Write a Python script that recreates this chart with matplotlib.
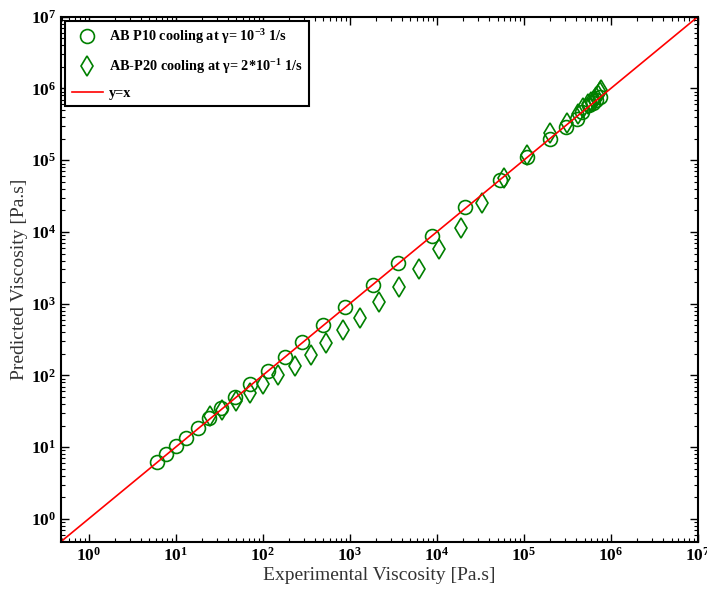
import numpy as np
import matplotlib
matplotlib.use('Agg')
import matplotlib.pyplot as plt
from matplotlib.ticker import LogLocator, NullFormatter, FuncFormatter

plt.rcParams['font.family'] = 'Liberation Serif'
plt.rcParams['mathtext.fontset'] = 'custom'
plt.rcParams['mathtext.rm'] = 'Liberation Serif:bold'
plt.rcParams['mathtext.it'] = 'Liberation Serif:bold'
plt.rcParams['mathtext.bf'] = 'Liberation Serif:bold'

# AB P10 cooling, gamma = 1e-3 1/s
p10_exp = [6.1, 7.7, 10.2, 13.3, 18, 24, 33.5, 48, 71, 115, 180, 285, 500, 890,
           1850, 3600, 8800, 21000, 54000, 108000, 198000, 305000, 405000,
           470000, 560000, 620000, 680000, 750000]
p10_pred = [6.2, 8.0, 10.5, 13.6, 18.5, 25.5, 35, 50, 75, 115, 180, 290, 500, 900,
            1800, 3700, 8700, 22000, 53000, 110000, 200000, 290000, 380000,
            470000, 580000, 630000, 700000, 760000]

# AB-P20 cooling, gamma = 2e-1 1/s
p20_exp = [25, 34, 50, 71, 100, 150, 234, 355, 540, 835, 1300, 2170, 3690, 6200,
           10600, 18900, 33000, 59000, 110000, 200000, 310000, 420000, 480000,
           550000, 600000, 640000, 680000, 720000, 750000, 780000]
p20_pred = [27, 33, 44, 57, 76, 102, 136, 194, 282, 424, 630, 1040, 1700, 3030,
            5760, 11300, 25000, 56000, 118000, 238000, 327000, 440000, 530000,
            600000, 650000, 700000, 760000, 820000, 880000, 950000]

lo, hi = 0.48, 1e7

fig = plt.figure(figsize=(7.07, 5.98), dpi=100)
ax = fig.add_axes([0.086, 0.094, 0.901, 0.878])

ax.plot(p10_exp, p10_pred, 'o', mfc='none', mec='green', ms=10, mew=1.2,
        label=r'AB P10 cooling at $\gamma$= 10$^{-3}$ 1/s')
ax.plot(p20_exp, p20_pred, 'd', mfc='none', mec='green', ms=10, mew=1.2,
        label=r'AB-P20 cooling at $\gamma$= 2*10$^{-1}$ 1/s')
ax.plot([lo, hi], [lo, hi], color='red', lw=1.2, label='y=x')

ax.set_xscale('log')
ax.set_yscale('log')
ax.set_xlim(lo, hi)
ax.set_ylim(lo, hi)

# bold 10^n labels
pow_fmt = FuncFormatter(lambda v, pos: r'$\mathrm{10^{%d}}$' % round(np.log10(v)))
for a in (ax.xaxis, ax.yaxis):
    a.set_major_locator(LogLocator(base=10, numticks=12))
    a.set_minor_locator(LogLocator(base=10, subs=np.arange(2, 10), numticks=12))
    a.set_major_formatter(pow_fmt)
    a.set_minor_formatter(NullFormatter())

ax.tick_params(which='both', direction='in', top=True, right=True, labelsize=12.5)
ax.tick_params(which='major', length=6, width=1)
ax.tick_params(which='minor', length=3, width=0.8)
for s in ax.spines.values():
    s.set_linewidth(1.5)

ax.set_xlabel('Experimental Viscosity [Pa.s]', fontsize=14, color='#333333', labelpad=2)
ax.set_ylabel('Predicted Viscosity [Pa.s]', fontsize=14, color='#333333', labelpad=2)

leg = ax.legend(loc='upper left', fancybox=False, edgecolor='black', framealpha=1,
                prop={'weight': 'bold', 'size': 10.3}, borderaxespad=0.3,
                handlelength=2.2, handletextpad=0.4, labelspacing=0.75,
                borderpad=0.45)
leg.get_frame().set_linewidth(1.5)

fig.savefig('out.png', dpi=100)
